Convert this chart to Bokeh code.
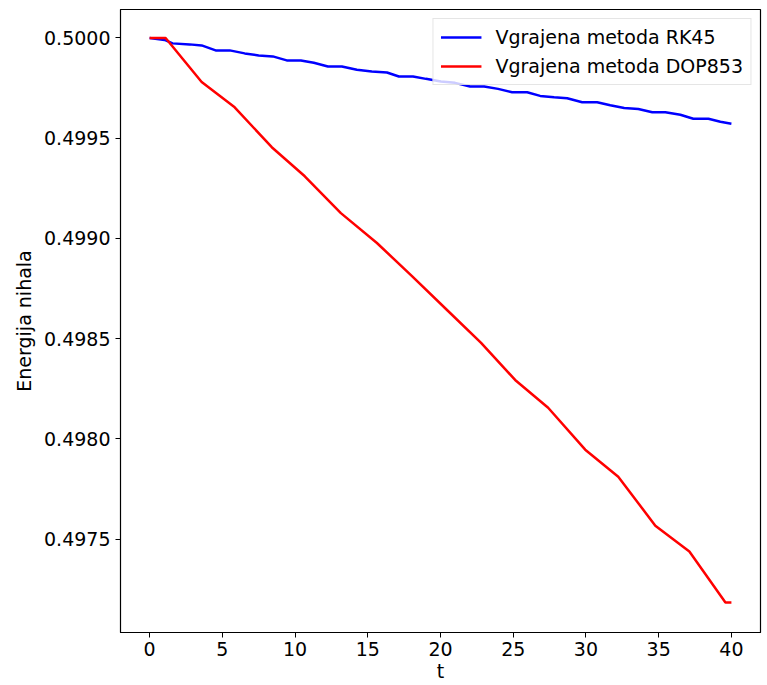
from bokeh.plotting import figure
from bokeh.models import FixedTicker, PrintfTickFormatter, Range1d, Legend, LegendItem
from bokeh.embed import file_html
from bokeh.resources import INLINE

# RK45 built-in method (blue)
t_rk45 = [0.00, 1.03, 1.58, 2.75, 3.58, 4.54, 5.51, 6.54, 7.50, 8.47, 9.43, 10.40,
          11.29, 12.26, 13.22, 14.25, 15.28, 16.32, 17.14, 18.11, 19.00, 20.03, 21.00,
          22.03, 23.00, 23.96, 24.92, 25.96, 26.85, 27.81, 28.71, 29.74, 30.77, 31.67,
          32.63, 33.60, 34.56, 35.46, 36.49, 37.38, 38.42, 39.24, 40.00]
e_rk45 = [0.500000, 0.499990, 0.499973, 0.499968, 0.499963, 0.499938, 0.499938,
          0.499923, 0.499913, 0.499908, 0.499888, 0.499888, 0.499876, 0.499858,
          0.499858, 0.499841, 0.499833, 0.499828, 0.499808, 0.499808, 0.499796,
          0.499783, 0.499776, 0.499758, 0.499758, 0.499746, 0.499729, 0.499729,
          0.499711, 0.499704, 0.499699, 0.499679, 0.499679, 0.499664, 0.499651,
          0.499646, 0.499629, 0.499629, 0.499617, 0.499597, 0.499597, 0.499582,
          0.499572]

# DOP853 built-in method (red)
t_dop = [0.00, 1.10, 3.58, 5.85, 8.40, 10.67, 13.15, 15.63, 18.04, 20.52, 22.79,
         25.13, 27.40, 29.95, 32.22, 34.77, 37.11, 39.59, 40.00]
e_dop = [0.500000, 0.500000, 0.499780, 0.499654, 0.499455, 0.499310, 0.499126,
         0.498977, 0.498812, 0.498638, 0.498479, 0.498294, 0.498155, 0.497946,
         0.497811, 0.497567, 0.497438, 0.497184, 0.497184]

x_ticks = [0, 5, 10, 15, 20, 25, 30, 35, 40]
y_ticks = [0.4975, 0.4980, 0.4985, 0.4990, 0.4995, 0.5000]

FONT = "DejaVu Sans"
FS = "19px"

p = figure(width=767, height=685, output_backend="svg", toolbar_location=None,
           x_range=Range1d(-2, 42), y_range=Range1d(0.497034, 0.500142),
           min_border_left=120, min_border_right=7, min_border_top=9,
           min_border_bottom=53)

r1 = p.line(t_rk45, e_rk45, line_color="#0000ff", line_width=2.5)
r2 = p.line(t_dop, e_dop, line_color="#ff0000", line_width=2.5)

p.grid.visible = False
p.outline_line_color = "black"
p.outline_line_width = 1.2
p.background_fill_color = "white"
p.border_fill_color = "white"

for ax in (p.xaxis[0], p.yaxis[0]):
    ax.axis_line_color = "black"
    ax.major_tick_line_color = "black"
    ax.major_tick_out = 5
    ax.major_tick_in = 0
    ax.minor_tick_line_color = None
    ax.major_label_text_font = FONT
    ax.major_label_text_font_size = FS
    ax.major_label_text_color = "black"
    ax.axis_label_text_font = FONT
    ax.axis_label_text_font_size = FS
    ax.axis_label_text_font_style = "normal"
    ax.axis_label_text_color = "black"

p.xaxis[0].ticker = FixedTicker(ticks=x_ticks)
p.yaxis[0].ticker = FixedTicker(ticks=y_ticks)
p.yaxis[0].formatter = PrintfTickFormatter(format="%.4f")
p.xaxis[0].axis_label = "t"
p.yaxis[0].axis_label = "Energija nihala"
p.xaxis[0].major_label_standoff = 4
p.xaxis[0].axis_label_standoff = 1
p.yaxis[0].major_label_standoff = 5
p.yaxis[0].axis_label_standoff = 6

legend = Legend(items=[LegendItem(label="Vgrajena metoda RK45", renderers=[r1]),
                       LegendItem(label="Vgrajena metoda DOP853", renderers=[r2])],
                location="top_right")
legend.margin = 9
legend.padding = 7
legend.spacing = 7
legend.glyph_width = 41
legend.glyph_height = 20
legend.label_height = 20
legend.label_standoff = 14
legend.label_text_font = FONT
legend.label_text_font_size = FS
legend.label_text_color = "black"
legend.border_line_color = "#cccccc"
legend.border_line_width = 1
legend.background_fill_alpha = 0.8
p.add_layout(legend)

open("out.html", "w").write(file_html(p, INLINE))
